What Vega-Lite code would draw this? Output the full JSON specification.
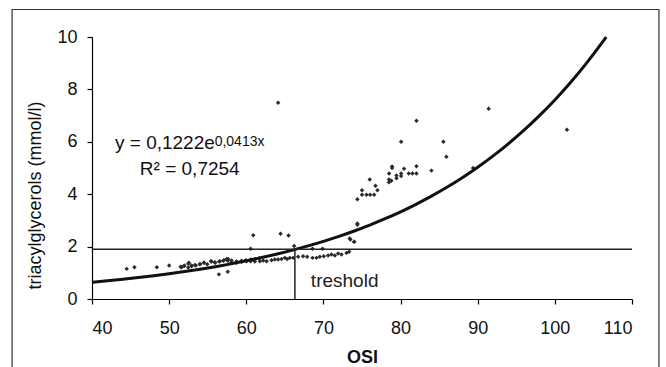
{
  "$schema": "https://vega.github.io/schema/vega-lite/v6.json",
  "autosize": {"type": "none"},
  "padding": {"left": 92, "top": 37, "right": 34, "bottom": 68},
  "width": 540,
  "height": 262,
  "background": "white",
  "config": {
    "view": {"stroke": null},
    "font": "Liberation Sans",
    "axis": {"grid": false, "domainColor": "#000", "tickColor": "#000", "labelColor": "#111", "titleColor": "#111", "labelFont": "Liberation Sans", "titleFont": "Liberation Sans", "labelFontSize": 18, "titleFontSize": 18, "tickSize": 5, "domainWidth": 1.2, "tickWidth": 1.2}
  },
  "datasets": {
    "pts": [
      {"OSI": 44.5, "TG": 1.15}, {"OSI": 45.5, "TG": 1.21}, {"OSI": 48.4, "TG": 1.21}, {"OSI": 50.0, "TG": 1.28},
      {"OSI": 51.49, "TG": 1.23}, {"OSI": 51.96, "TG": 1.28}, {"OSI": 52.48, "TG": 1.35}, {"OSI": 52.48, "TG": 1.2},
      {"OSI": 52.91, "TG": 1.28}, {"OSI": 53.47, "TG": 1.28}, {"OSI": 53.99, "TG": 1.33}, {"OSI": 54.51, "TG": 1.38},
      {"OSI": 54.94, "TG": 1.33}, {"OSI": 55.5, "TG": 1.43}, {"OSI": 55.97, "TG": 1.38}, {"OSI": 56.49, "TG": 1.43},
      {"OSI": 57.01, "TG": 1.46}, {"OSI": 57.45, "TG": 1.53}, {"OSI": 57.6, "TG": 1.46}, {"OSI": 58.09, "TG": 1.38},
      {"OSI": 58.74, "TG": 1.38},
      {"OSI": 51.62, "TG": 1.21}, {"OSI": 51.96, "TG": 1.26}, {"OSI": 52.56, "TG": 1.38}, {"OSI": 52.91, "TG": 1.25},
      {"OSI": 53.34, "TG": 1.3}, {"OSI": 53.99, "TG": 1.34}, {"OSI": 54.51, "TG": 1.38}, {"OSI": 55.41, "TG": 1.44},
      {"OSI": 55.93, "TG": 1.4}, {"OSI": 56.58, "TG": 1.44}, {"OSI": 57.1, "TG": 1.48}, {"OSI": 57.66, "TG": 1.53},
      {"OSI": 58.09, "TG": 1.47}, {"OSI": 58.74, "TG": 1.43}, {"OSI": 59.39, "TG": 1.46}, {"OSI": 59.95, "TG": 1.48},
      {"OSI": 60.6, "TG": 1.51}, {"OSI": 61.11, "TG": 1.53}, {"OSI": 61.67, "TG": 1.56},
      {"OSI": 56.45, "TG": 0.94}, {"OSI": 57.6, "TG": 1.04},
      {"OSI": 58.09, "TG": 1.38}, {"OSI": 58.74, "TG": 1.42}, {"OSI": 59.39, "TG": 1.42}, {"OSI": 60.04, "TG": 1.44},
      {"OSI": 60.56, "TG": 1.44}, {"OSI": 61.11, "TG": 1.43}, {"OSI": 61.76, "TG": 1.44}, {"OSI": 62.19, "TG": 1.47},
      {"OSI": 62.63, "TG": 1.44}, {"OSI": 63.28, "TG": 1.48}, {"OSI": 63.7, "TG": 1.51}, {"OSI": 64.13, "TG": 1.51},
      {"OSI": 64.57, "TG": 1.53}, {"OSI": 65.0, "TG": 1.57}, {"OSI": 65.3, "TG": 1.53}, {"OSI": 65.65, "TG": 1.57},
      {"OSI": 66.08, "TG": 1.57}, {"OSI": 66.72, "TG": 1.61}, {"OSI": 67.37, "TG": 1.63}, {"OSI": 67.89, "TG": 1.61},
      {"OSI": 68.58, "TG": 1.57}, {"OSI": 69.1, "TG": 1.57}, {"OSI": 69.53, "TG": 1.61}, {"OSI": 70.05, "TG": 1.63},
      {"OSI": 70.61, "TG": 1.66}, {"OSI": 71.05, "TG": 1.7}, {"OSI": 71.48, "TG": 1.66}, {"OSI": 71.9, "TG": 1.74},
      {"OSI": 72.34, "TG": 1.7}, {"OSI": 72.99, "TG": 1.76}, {"OSI": 73.33, "TG": 1.8},
      {"OSI": 60.9, "TG": 2.43}, {"OSI": 64.44, "TG": 2.49}, {"OSI": 65.48, "TG": 2.42}, {"OSI": 60.56, "TG": 1.92},
      {"OSI": 66.2, "TG": 2.02}, {"OSI": 68.58, "TG": 1.92}, {"OSI": 69.88, "TG": 1.92}, {"OSI": 73.5, "TG": 2.27},
      {"OSI": 73.97, "TG": 2.18}, {"OSI": 73.4, "TG": 2.31}, {"OSI": 74.0, "TG": 2.19}, {"OSI": 74.4, "TG": 2.88},
      {"OSI": 74.4, "TG": 2.83}, {"OSI": 74.4, "TG": 3.81}, {"OSI": 75.0, "TG": 3.98}, {"OSI": 75.58, "TG": 3.98},
      {"OSI": 76.05, "TG": 3.98}, {"OSI": 76.57, "TG": 3.98}, {"OSI": 75.0, "TG": 4.15}, {"OSI": 76.75, "TG": 4.32},
      {"OSI": 77.0, "TG": 4.15}, {"OSI": 76.0, "TG": 4.56}, {"OSI": 78.5, "TG": 4.56}, {"OSI": 78.8, "TG": 4.51},
      {"OSI": 78.5, "TG": 4.46}, {"OSI": 78.51, "TG": 4.79}, {"OSI": 79.47, "TG": 4.71}, {"OSI": 79.47, "TG": 4.61},
      {"OSI": 80.07, "TG": 4.79}, {"OSI": 80.07, "TG": 4.69}, {"OSI": 81.06, "TG": 4.79}, {"OSI": 81.54, "TG": 4.79},
      {"OSI": 82.06, "TG": 4.79}, {"OSI": 78.9, "TG": 5.06}, {"OSI": 78.9, "TG": 5.0}, {"OSI": 80.45, "TG": 4.97},
      {"OSI": 82.06, "TG": 5.07}, {"OSI": 84.0, "TG": 4.9}, {"OSI": 80.07, "TG": 6.0}, {"OSI": 85.55, "TG": 6.0},
      {"OSI": 85.94, "TG": 5.43}, {"OSI": 82.06, "TG": 6.8}, {"OSI": 91.42, "TG": 7.26}, {"OSI": 101.57, "TG": 6.46},
      {"OSI": 89.4, "TG": 5.0}, {"OSI": 64.13, "TG": 7.49}
    ],
    "curve": [
      {"OSI": 40, "TG": 0.6375}, {"OSI": 42, "TG": 0.6925}, {"OSI": 44, "TG": 0.7521}, {"OSI": 46, "TG": 0.8169},
      {"OSI": 48, "TG": 0.8872}, {"OSI": 50, "TG": 0.9636}, {"OSI": 52, "TG": 1.0465}, {"OSI": 54, "TG": 1.1367},
      {"OSI": 56, "TG": 1.2346}, {"OSI": 58, "TG": 1.3409}, {"OSI": 60, "TG": 1.4564}, {"OSI": 62, "TG": 1.5818},
      {"OSI": 64, "TG": 1.718}, {"OSI": 66, "TG": 1.866}, {"OSI": 68, "TG": 2.0267}, {"OSI": 70, "TG": 2.2012},
      {"OSI": 72, "TG": 2.3907}, {"OSI": 74, "TG": 2.5966}, {"OSI": 76, "TG": 2.8202}, {"OSI": 78, "TG": 3.0631},
      {"OSI": 80, "TG": 3.3269}, {"OSI": 82, "TG": 3.6134}, {"OSI": 84, "TG": 3.9245}, {"OSI": 86, "TG": 4.2625},
      {"OSI": 88, "TG": 4.6296}, {"OSI": 90, "TG": 5.0283}, {"OSI": 92, "TG": 5.4613}, {"OSI": 94, "TG": 5.9316},
      {"OSI": 96, "TG": 6.4424}, {"OSI": 98, "TG": 6.9972}, {"OSI": 100, "TG": 7.5982}, {"OSI": 102, "TG": 8.2524},
      {"OSI": 104, "TG": 8.9631}, {"OSI": 106, "TG": 9.7349}, {"OSI": 106.65, "TG": 10.0}
    ],
    "one": [{}]
  },
  "layer": [
    {
      "data": {"name": "pts"},
      "mark": {"type": "point", "shape": "diamond", "filled": true, "size": 20, "color": "#2a2a2a", "opacity": 1},
      "encoding": {
        "x": {"field": "OSI", "type": "quantitative", "scale": {"domain": [40, 110], "nice": false, "zero": false},
              "axis": {"values": [40, 50, 60, 70, 80, 90, 100, 110], "title": "OSI", "titleFontWeight": "bold", "labelPadding": 15, "titleBaseline": "top", "titleY": 49}},
        "y": {"field": "TG", "type": "quantitative", "scale": {"domain": [0, 10], "nice": false},
              "axis": {"values": [0, 2, 4, 6, 8, 10], "title": "triacylglycerols (mmol/l)", "titleFontWeight": "normal", "labelPadding": 10, "titleAngle": -90, "titleBaseline": "middle", "titleAlign": "center", "titleX": -57, "titleY": 158}}
      }
    },
    {
      "data": {"name": "curve"},
      "mark": {"type": "line", "color": "#111", "strokeWidth": 3, "interpolate": "monotone"},
      "encoding": {
        "x": {"field": "OSI", "type": "quantitative"},
        "y": {"field": "TG", "type": "quantitative"}
      }
    },
    {
      "data": {"name": "one"},
      "mark": {"type": "rule", "color": "#222", "strokeWidth": 1.5},
      "encoding": {"y": {"datum": 1.9, "type": "quantitative"}}
    },
    {
      "data": {"name": "one"},
      "mark": {"type": "rule", "color": "#222", "strokeWidth": 1.5},
      "encoding": {"x": {"datum": 66.3, "type": "quantitative"}, "y": {"datum": 0, "type": "quantitative"}, "y2": {"datum": 1.9}}
    },
    {
      "data": {"name": "one"},
      "mark": {"type": "rect", "fill": null, "fillOpacity": 0, "stroke": "#333", "strokeWidth": 1.2},
      "encoding": {"x": {"datum": 29.64, "type": "quantitative"}, "x2": {"datum": 113.49}, "y": {"datum": 11.05, "type": "quantitative"}, "y2": {"datum": -2.8}}
    },
    {
      "data": {"name": "one"},
      "mark": {"type": "text", "text": "treshold", "font": "Liberation Sans", "fontSize": 19, "align": "left", "baseline": "alphabetic", "color": "#222"},
      "encoding": {"x": {"datum": 68.37, "type": "quantitative"}, "y": {"datum": 0.47, "type": "quantitative"}}
    },
    {
      "data": {"name": "one"},
      "mark": {"type": "text", "text": "y = 0,1222e", "fontSize": 19, "align": "left", "baseline": "alphabetic", "color": "#111"},
      "encoding": {"x": {"datum": 42.98, "type": "quantitative"}, "y": {"datum": 5.74, "type": "quantitative"}}
    },
    {
      "data": {"name": "one"},
      "mark": {"type": "text", "text": "0,0413x", "fontSize": 14, "align": "left", "baseline": "alphabetic", "color": "#111"},
      "encoding": {"x": {"datum": 55.9, "type": "quantitative"}, "y": {"datum": 5.84, "type": "quantitative"}}
    },
    {
      "data": {"name": "one"},
      "mark": {"type": "text", "text": "R² = 0,7254", "fontSize": 19, "align": "left", "baseline": "alphabetic", "color": "#111"},
      "encoding": {"x": {"datum": 46.2, "type": "quantitative"}, "y": {"datum": 4.75, "type": "quantitative"}}
    }
  ]
}
